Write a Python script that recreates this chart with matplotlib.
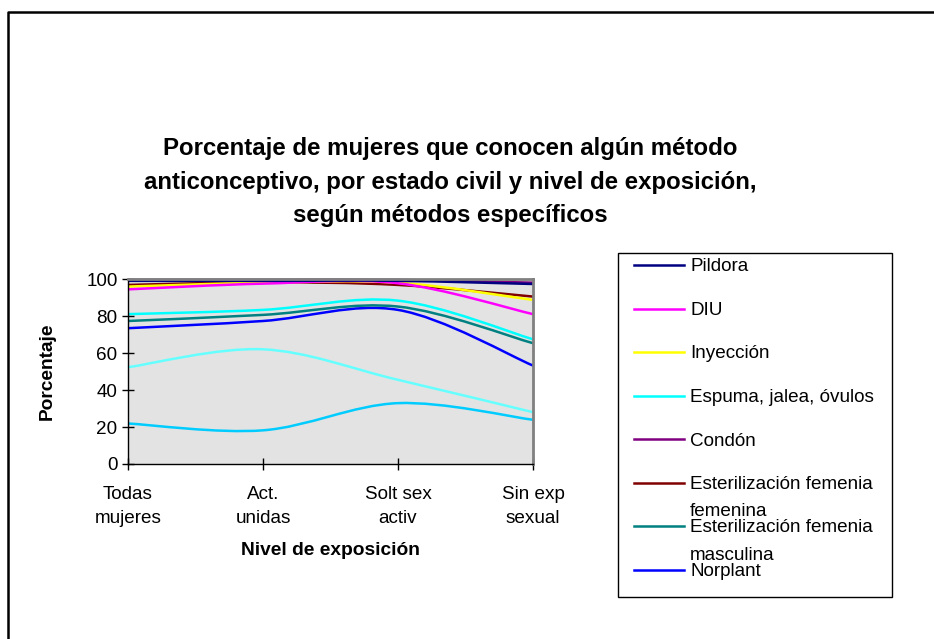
import matplotlib
matplotlib.use("Agg")
import matplotlib.pyplot as plt
from matplotlib.path import Path
from matplotlib.patches import PathPatch, Rectangle
from matplotlib.lines import Line2D

plt.rcParams['font.family'] = ['Liberation Sans', 'DejaVu Sans']

# categories (nivel de exposicion)
categorias = ["Todas\nmujeres", "Act.\nunidas", "Solt sex\nactiv", "Sin exp\nsexual"]

# percentages
pildora = [99, 99, 99, 97.3]
diu = [94.4, 97.5, 97.7, 81]
inyeccion = [95.9, 98, 98, 88.7]
espuma = [81, 83.3, 88.3, 67.4]
condon = [99.5, 99.5, 99.5, 98]
ester_fem = [96.8, 98.2, 96.8, 90.5]
ester_masc = [77.3, 80.6, 85.1, 65.3]
norplant = [73.4, 77.3, 83.3, 53.2]
otro_1 = [21.9, 18.2, 32.9, 23.9]   # not shown in the legend
otro_2 = [52.3, 62, 45.5, 28]       # not shown in the legend

series = [
    ("Pildora", pildora, "#000080"),
    ("DIU", diu, "#FF00FF"),
    ("Inyección", inyeccion, "#FFFF00"),
    ("Espuma, jalea, óvulos", espuma, "#00FFFF"),
    ("Condón", condon, "#800080"),
    ("Esterilización femenia\nfemenina", ester_fem, "#800000"),
    ("Esterilización femenia\nmasculina", ester_masc, "#008080"),
    ("Norplant", norplant, "#0000FF"),
    ("_otro1", otro_1, "#00CCFF"),
    ("_otro2", otro_2, "#66FFFF"),
]

W, H = 934, 639


def smooth_path(ys):
    # excel-like smoothed line: cubic bezier through the points
    xs = list(range(len(ys)))
    pts = list(zip(xs, ys))
    verts = [pts[0]]
    codes = [Path.MOVETO]
    n = len(pts)
    for i in range(n - 1):
        p0 = pts[i - 1] if i > 0 else pts[i]
        p1 = pts[i]
        p2 = pts[i + 1]
        p3 = pts[i + 2] if i + 2 < n else pts[i + 1]
        c1 = (p1[0] + (p2[0] - p0[0]) / 6, p1[1] + (p2[1] - p0[1]) / 6)
        c2 = (p2[0] - (p3[0] - p1[0]) / 6, p2[1] - (p3[1] - p1[1]) / 6)
        verts += [c1, c2, p2]
        codes += [Path.CURVE4] * 3
    return Path(verts, codes)


fig = plt.figure(figsize=(W / 100, H / 100), dpi=100)
ax = fig.add_axes([128 / W, 1 - 464 / H, 405 / W, 185 / H])
ax.set_facecolor("#E3E3E3")

for name, vals, col in reversed(series):
    ax.add_patch(PathPatch(smooth_path(vals), facecolor="none", edgecolor=col,
                           lw=1.8, transform=ax.transData, clip_on=False))

ax.set_xlim(0, 3)
ax.set_ylim(0, 100)
ax.set_xticks(range(4))
ax.set_xticklabels(categorias, fontsize=13.6, linespacing=1.55)
ax.set_yticks(range(0, 101, 20))
ax.tick_params(axis="both", direction="inout", length=9, width=1, labelsize=13.6)
ax.tick_params(axis="x", pad=11)
ax.tick_params(axis="y", pad=3)
for s in ["top", "right"]:
    ax.spines[s].set_color("#808080")
    ax.spines[s].set_linewidth(2)
for s in ["left", "bottom"]:
    ax.spines[s].set_color("black")
    ax.spines[s].set_linewidth(1)

ax.set_ylabel("Porcentaje", fontsize=13.8, fontweight="bold", labelpad=22)
ax.set_xlabel("Nivel de exposición", fontsize=13.8, fontweight="bold", labelpad=11)

fig.text(450 / W, 1 - 182 / H,
         "Porcentaje de mujeres que conocen algún método\n"
         "anticonceptivo, por estado civil y nivel de exposición,\n"
         "según métodos específicos",
         ha="center", va="center", fontsize=17.3, fontweight="bold", linespacing=1.6)

# legend box, drawn like the excel one
fig.add_artist(Rectangle((618 / W, 1 - 597 / H), 274 / W, 344 / H,
                         transform=fig.transFigure, fill=False, ec="black", lw=1))
for i, (name, vals, col) in enumerate(series[:8]):
    y = 265 + i * 43.5
    fig.add_artist(Line2D([634 / W, 684 / W], [1 - y / H, 1 - y / H],
                          transform=fig.transFigure, color=col, lw=1.8))
    fig.text(690 / W, 1 - (y - 6.5) / H, name, ha="left", va="top",
             fontsize=13.6, linespacing=1.8)

# outer chart border
fig.add_artist(Line2D([8 / W, 8 / W, 933 / W], [0, 1 - 12 / H, 1 - 12 / H],
                      transform=fig.transFigure, color="black", lw=1.8))

fig.savefig("out.png", dpi=100)
